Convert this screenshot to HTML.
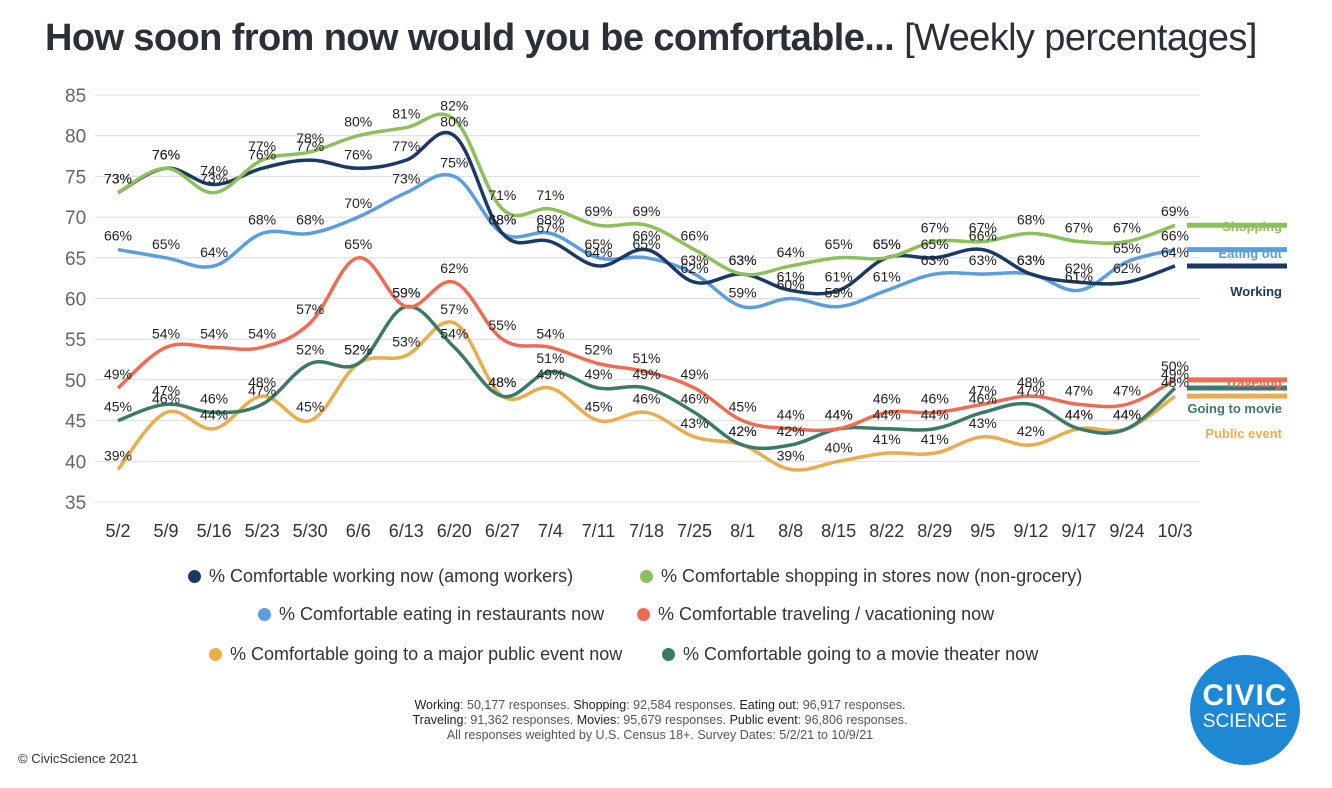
<!DOCTYPE html>
<html><head><meta charset="utf-8">
<style>
body{margin:0;width:1332px;height:788px;background:#fff;font-family:"Liberation Sans",sans-serif;overflow:hidden;position:relative}
#title{position:absolute;left:45px;top:17px;font-size:38px;color:#2b2f38;letter-spacing:-0.6px;white-space:nowrap}
#title b{font-weight:bold}
.leg{position:absolute;font-size:18px;color:#333;white-space:nowrap}
.dot{display:inline-block;width:13px;height:13px;border-radius:50%;margin:0 8px -1px 0}
#foot{position:absolute;left:0;width:1320px;top:698px;text-align:center;font-size:12.5px;color:#555;line-height:15px}
#copy{position:absolute;left:18px;top:751px;font-size:13px;color:#333}
#logo{position:absolute;left:1190px;top:655px;width:110px;height:110px;border-radius:50%;background:#1e88d4;color:#fff;text-align:center}
</style></head><body>
<div id="title"><b>How soon from now would you be comfortable...</b> [Weekly percentages]</div>
<svg id="chart" width="1332" height="560" style="position:absolute;left:0;top:0"></svg>
<div class="leg" style="left:188px;top:566px"><span class="dot" style="background:#1b3a63"></span>% Comfortable working now (among workers)</div>
<div class="leg" style="left:640px;top:566px"><span class="dot" style="background:#8dbf5a"></span>% Comfortable shopping in stores now (non-grocery)</div>
<div class="leg" style="left:258px;top:604px"><span class="dot" style="background:#5b9ee0"></span>% Comfortable eating in restaurants now</div>
<div class="leg" style="left:637px;top:604px"><span class="dot" style="background:#ee6c55"></span>% Comfortable traveling / vacationing now</div>
<div class="leg" style="left:209px;top:644px"><span class="dot" style="background:#e9ad4f"></span>% Comfortable going to a major public event now</div>
<div class="leg" style="left:662px;top:644px"><span class="dot" style="background:#3c7a68"></span>% Comfortable going to a movie theater now</div>
<div id="foot"><span style="color:#222">Working</span>: 50,177 responses. <span style="color:#222">Shopping</span>: 92,584 responses. <span style="color:#222">Eating out</span>: 96,917 responses.<br><span style="color:#222">Traveling</span>: 91,362 responses. <span style="color:#222">Movies</span>: 95,679 responses. <span style="color:#222">Public event</span>: 96,806 responses.<br>All responses weighted by U.S. Census 18+. Survey Dates: 5/2/21 to 10/9/21</div>
<div id="copy">© CivicScience 2021</div>
<div id="logo"><div style="font-size:30px;font-weight:bold;margin-top:24px;letter-spacing:1px">CIVIC</div><div style="font-size:19px;margin-top:-2px">SCIENCE</div></div>
<script>
const categories=["5/2","5/9","5/16","5/23","5/30","6/6","6/13","6/20","6/27","7/4","7/11","7/18","7/25","8/1","8/8","8/15","8/22","8/29","9/5","9/12","9/17","9/24","10/3"];
const yTicks=[35,40,45,50,55,60,65,70,75,80,85];
const working=[73,76,74,76,77,76,77,80,68,67,64,66,62,63,61,61,65,65,66,63,62,62,64];
const shopping=[73,76,73,77,78,80,81,82,71,71,69,69,66,63,64,65,65,67,67,68,67,67,69];
const eating=[66,65,64,68,68,70,73,75,68,68,65,65,63,59,60,59,61,63,63,63,61,64.5,66];
const traveling=[49,54,54,54,57,65,59,62,55,54,52,51,49,45,44,44,46,46,47,48,47,47,50];
const publicEvent=[39,46,44,48,45,52,53,57,48,49,45,46,43,42,39,40,41,41,43,42,44,44,48];
const movie=[45,47,46,47,52,52,59,54,48,51,49,49,46,42,42,44,44,44,46,47,44,44,49];
const series=[
 {name:"public-event",label:"Public event",data:publicEvent,color:"#e9ad4f",ly:438},
 {name:"movie",label:"Going to movie",data:movie,color:"#3c7a68",ly:413},
 {name:"traveling",label:"Traveling",data:traveling,color:"#ee6c55",ly:387},
 {name:"eating-out",label:"Eating out",data:eating,color:"#5b9ee0",ly:258},
 {name:"working",label:"Working",data:working,color:"#1b3a63",ly:296},
 {name:"shopping",label:"Shopping",data:shopping,color:"#8dbf5a",ly:231}
];
const NS="http://www.w3.org/2000/svg";
const svg=document.getElementById('chart');
const X=i=>118+i*(1175-118)/(categories.length-1);
const Y=v=>502-(v-35)*(502-95)/50;
function mk(t,a,p){const e=document.createElementNS(NS,t);for(const k in a)e.setAttribute(k,a[k]);(p||svg).appendChild(e);return e;}
yTicks.forEach(t=>{
 const l=mk('line',{x1:95,x2:1200,y1:Y(t),y2:Y(t),stroke:'#dcdcdc','stroke-width':1});
 
 
 const tx=mk('text',{x:65,y:Y(t)+7,'font-size':19,fill:'#666'});tx.textContent=t;
 
 
});
categories.forEach((c,i)=>{
 const tx=mk('text',{x:X(i),y:537,'font-size':18,fill:'#333','text-anchor':'middle'});tx.textContent=c;
 
 
});
function path(d){
 const p=d.map((v,i)=>[X(i),Y(v)]);let s=`M${p[0][0]},${p[0][1]}`;
 for(let i=0;i<p.length-1;i++){const p0=p[i-1]||p[i],p1=p[i],p2=p[i+1],p3=p[i+2]||p2;const k=0.18;
  s+=` C${p1[0]+(p2[0]-p0[0])*k},${p1[1]+(p2[1]-p0[1])*k} ${p2[0]-(p3[0]-p1[0])*k},${p2[1]-(p3[1]-p1[1])*k} ${p2[0]},${p2[1]}`;}
 return s;
}
series.forEach(s=>{
 const p=mk('path',{d:path(s.data),fill:'none',stroke:s.color,'stroke-width':3.5});
 
 
 const b=mk('line',{x1:1187,x2:1287,y1:Y(s.data[s.data.length-1]),y2:Y(s.data[s.data.length-1]),stroke:s.color,'stroke-width':5});
 
 
 const t=mk('text',{x:1282,y:s.ly,'font-size':13,'font-weight':'bold',fill:s.color,'text-anchor':'end'});t.textContent=s.label;
 
 
});
series.forEach(s=>{
 s.data.forEach((v,i)=>{
  const t=mk('text',{x:X(i),y:Y(v)-9,'font-size':14,fill:'#222','text-anchor':'middle'});t.textContent=Math.round(v)+'%';
  
  
 });
});
</script>
</body></html>
